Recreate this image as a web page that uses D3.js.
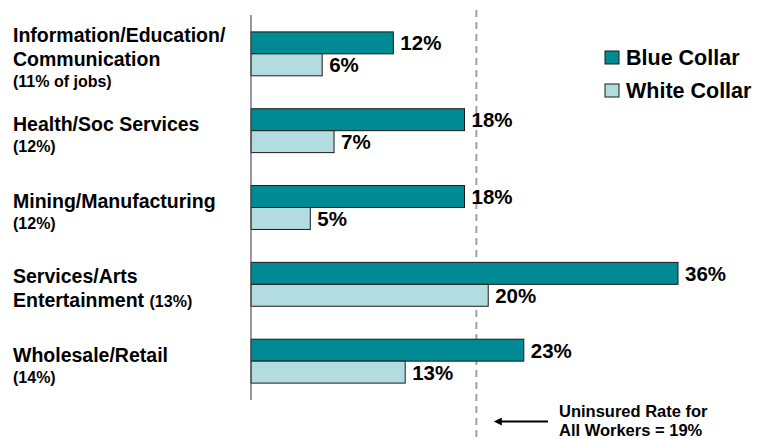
<!DOCTYPE html>
<html>
<head>
<meta charset="utf-8">
<script src="https://cdn.jsdelivr.net/npm/d3@7"></script>
<style>
  html, body { margin: 0; padding: 0; background: #fff; }
  svg { display: block; font-family: "Liberation Sans", Arial, Helvetica, sans-serif; font-weight: bold; }
</style>
</head>
<body>
<svg id="chart" width="758" height="439"></svg>
<script>
// Industry groups, each label split into its printed lines
const categories = ["Information", "Health", "Mining", "Services", "Wholesale"];
const categoryLines = [
  ["Information/Education/", "Communication", "(11% of jobs)"],
  ["Health/Soc Services", "(12%)"],
  ["Mining/Manufacturing", "(12%)"],
  ["Services/Arts", "Entertainment (13%)"],
  ["Wholesale/Retail", "(14%)"]
];
const seriesNames = ["Blue Collar", "White Collar"];
const blueCollar = [12, 18, 18, 36, 23];
const whiteCollar = [6, 7, 5, 20, 13];
const allWorkersRate = 19;
const noteLines = ["Uninsured Rate for", "All Workers = " + allWorkersRate + "%"];

const colors = { "Blue Collar": "#008a94", "White Collar": "#b3dce0" };

const svg = d3.select("#chart");

const x = d3.scaleLinear().domain([0, 36]).range([251, 678]);
const y = d3.scaleBand().domain(categories).range([15, 400])
  .paddingInner(0.4286).paddingOuter(0.22);
const ySub = d3.scaleBand().domain(seriesNames).range([0, y.bandwidth()]);

const rows = categories.map((c, i) => ({
  cat: c,
  values: [
    { key: "Blue Collar", value: blueCollar[i] },
    { key: "White Collar", value: whiteCollar[i] }
  ]
}));

// Reference line for the all-worker rate
svg.append("line")
  .attr("x1", x(allWorkersRate)).attr("x2", x(allWorkersRate))
  .attr("y1", 10).attr("y2", 439)
  .attr("stroke", "#a0a0a0").attr("stroke-width", 2)
  .attr("stroke-dasharray", "7,5");

// Bars
const groups = svg.selectAll("g.row").data(rows).join("g")
  .attr("class", "row")
  .attr("transform", d => `translate(0,${y(d.cat)})`);

groups.selectAll("rect").data(d => d.values).join("rect")
  .attr("x", x(0))
  .attr("y", d => ySub(d.key))
  .attr("width", d => x(d.value) - x(0))
  .attr("height", ySub.bandwidth())
  .attr("fill", d => colors[d.key])
  .attr("stroke", "#1a1a1a").attr("stroke-width", 1);

groups.selectAll("text.val").data(d => d.values).join("text")
  .attr("class", "val")
  .attr("x", d => x(d.value) + 7)
  .attr("y", d => ySub(d.key) + ySub.bandwidth() / 2 + 7.5)
  .attr("font-size", 20.5)
  .attr("fill", "#000")
  .text(d => d.value + "%");

// Vertical axis line
svg.append("line")
  .attr("x1", x(0)).attr("x2", x(0))
  .attr("y1", 15).attr("y2", 400)
  .attr("stroke", "#555").attr("stroke-width", 1.2);

// Category labels: main text larger, parenthesised share smaller
categories.forEach((c, i) => {
  const lines = categoryLines[i];
  const gaps = lines.slice(1).map(l => l.startsWith("(") ? 21 : 24);
  const total = d3.sum(gaps);
  const center = y(c) + y.bandwidth() / 2;
  let by = center - total / 2 + 11;
  lines.forEach((line, j) => {
    if (j > 0) by += gaps[j - 1];
    const t = svg.append("text").attr("x", 13).attr("y", by).attr("fill", "#000");
    const m = line.match(/^(.*?)(\(.*\))?$/);
    if (m[1]) t.append("tspan").attr("font-size", 19.5).text(m[1]);
    if (m[2]) t.append("tspan").attr("font-size", 16).text(m[2]);
  });
});

// Legend
const legend = svg.append("g").attr("transform", "translate(605,51)");
seriesNames.forEach((s, i) => {
  const g = legend.append("g").attr("transform", `translate(0,${i * 33})`);
  g.append("rect").attr("width", 14).attr("height", 13)
    .attr("fill", colors[s]).attr("stroke", "#1a1a1a").attr("stroke-width", 1);
  g.append("text").attr("x", 21).attr("y", 13.5)
    .attr("font-size", 21.5).attr("fill", "#000").text(s);
});

// Note with arrow pointing to the reference line
svg.append("defs").append("marker")
  .attr("id", "arrowhead").attr("viewBox", "0 0 10 10")
  .attr("refX", 1).attr("refY", 5)
  .attr("markerWidth", 5).attr("markerHeight", 4)
  .attr("orient", "auto-start-reverse")
  .append("path").attr("d", "M0,0L10,5L0,10z").attr("fill", "#000");

svg.append("line")
  .attr("x1", 548).attr("x2", 501)
  .attr("y1", 421.5).attr("y2", 421.5)
  .attr("stroke", "#000").attr("stroke-width", 2)
  .attr("marker-end", "url(#arrowhead)");

svg.append("text").attr("font-size", 16.5).attr("fill", "#000")
  .selectAll("tspan").data(noteLines).join("tspan")
  .attr("x", 559).attr("y", (d, i) => 416.5 + i * 19.5)
  .text(d => d);
</script>
</body>
</html>
